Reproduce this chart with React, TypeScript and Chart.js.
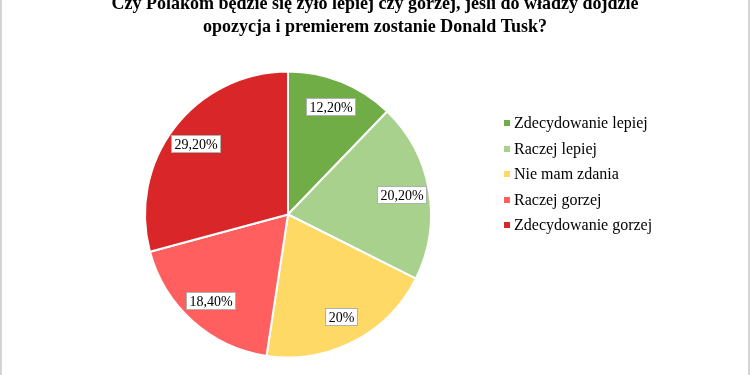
import React, { useEffect, useRef } from "react";
import { Chart, registerables } from "chart.js";

Chart.register(...registerables);

const titleLines = [
  "Czy Polakom będzie się żyło lepiej czy gorzej, jeśli do władzy dojdzie",
  "opozycja i premierem zostanie Donald Tusk?",
];
const categories = [
  "Zdecydowanie lepiej",
  "Raczej lepiej",
  "Nie mam zdania",
  "Raczej gorzej",
  "Zdecydowanie gorzej",
];
const values = [12.2, 20.2, 20, 18.4, 29.2];
const valueLabels = ["12,20%", "20,20%", "20%", "18,40%", "29,20%"];
const colors = ["#70AD47", "#A9D18E", "#FFD966", "#FF5F5F", "#D92628"];

const SERIF = "'Liberation Serif', 'Times New Roman', serif";

const overlay = {
  id: "overlay",
  afterDraw(chart: any) {
    const ctx = chart.ctx as CanvasRenderingContext2D;
    ctx.save();
    // frame
    ctx.fillStyle = "#d4d4d4";
    ctx.fillRect(0, 0, 2, 375);
    ctx.fillRect(748, 0, 2, 375);

    // title
    ctx.fillStyle = "#000";
    ctx.font = `bold 18px ${SERIF}`;
    ctx.textAlign = "center";
    ctx.textBaseline = "alphabetic";
    ctx.fillText(titleLines[0], 375, 9);
    ctx.fillText(titleLines[1], 375, 32);

    // data labels
    const meta = chart.getDatasetMeta(0);
    ctx.font = `14px ${SERIF}`;
    meta.data.forEach((arc: any, i: number) => {
      const mid = (arc.startAngle + arc.endAngle) / 2;
      const r = arc.outerRadius * 0.81;
      const x = arc.x + Math.cos(mid) * r;
      const y = arc.y + Math.sin(mid) * r;
      const text = valueLabels[i];
      const w = Math.round(ctx.measureText(text).width + 7);
      const h = 18;
      const bx = Math.round(x - w / 2);
      const by = Math.round(y - h / 2);
      ctx.fillStyle = "#fff";
      ctx.fillRect(bx, by, w, h);
      ctx.strokeStyle = "#b0b0b0";
      ctx.lineWidth = 1;
      ctx.strokeRect(bx + 0.5, by + 0.5, w - 1, h - 1);
      ctx.fillStyle = "#000";
      ctx.textAlign = "center";
      ctx.textBaseline = "middle";
      ctx.fillText(text, bx + w / 2, by + h / 2 + 1);
    });

    // legend
    ctx.font = `16px ${SERIF}`;
    ctx.textAlign = "left";
    ctx.textBaseline = "middle";
    const labels = chart.data.labels as string[];
    labels.forEach((lab: string, i: number) => {
      const y = 123 + i * 25.5;
      ctx.fillStyle = colors[i];
      ctx.fillRect(504, Math.round(y - 3), 6, 6);
      ctx.fillStyle = "#000";
      ctx.fillText(lab, 514, y + 1);
    });
    ctx.restore();
  },
};

export default function App() {
  const ref = useRef<HTMLCanvasElement>(null);
  useEffect(() => {
    document.body.style.margin = "0";
    const chart = new Chart(ref.current!, {
      type: "pie",
      data: {
        labels: categories,
        datasets: [
          {
            data: values,
            backgroundColor: colors,
            borderColor: "#ffffff",
            borderWidth: 2,
          },
        ],
      },
      options: {
        responsive: false,
        animation: false,
        events: [],
        layout: { padding: { top: 70, bottom: 16, left: 144, right: 318 } },
        plugins: {
          legend: { display: false },
          title: { display: false },
          tooltip: { enabled: false },
        },
      },
      plugins: [overlay],
    });
    return () => chart.destroy();
  }, []);
  return (
    <div style={{ width: 750, height: 375, background: "#fff" }}>
      <canvas ref={ref} width={750} height={375} style={{ display: "block" }} />
    </div>
  );
}
